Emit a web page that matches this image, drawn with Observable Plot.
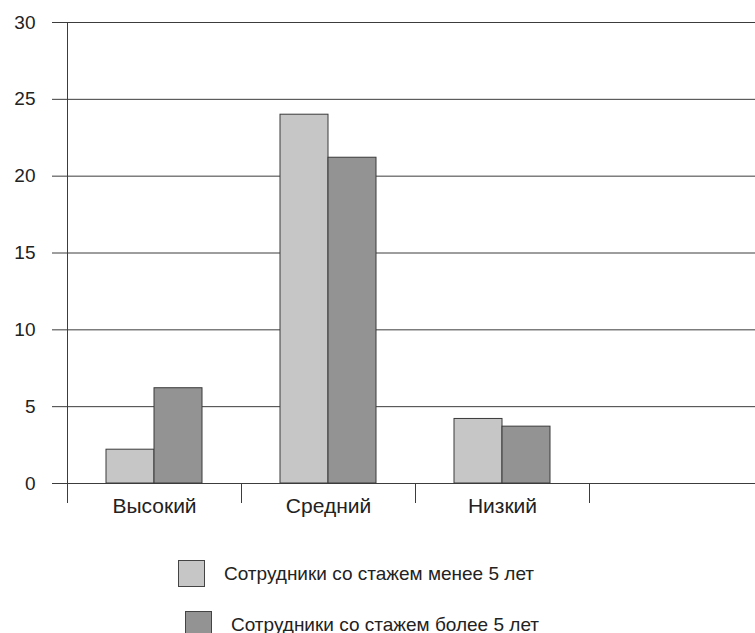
<!DOCTYPE html>
<html>
<head>
<meta charset="utf-8">
<script src="https://cdn.jsdelivr.net/npm/d3@7"></script>
<script src="https://cdn.jsdelivr.net/npm/@observablehq/plot@0.6"></script>
<style>
  html, body { margin: 0; padding: 0; background: #fff; }
  body { width: 755px; height: 633px; position: relative; overflow: hidden; font-family: "Liberation Sans", Arial, sans-serif; }
  #chart { position: absolute; left: 0; top: 0; }
  .legend-item { position: absolute; display: flex; align-items: center; font-size: 19px; color: #222; white-space: nowrap; }
  .swatch { width: 27px; height: 27px; border: 1px solid #444; box-sizing: border-box; margin-right: 19px; flex: none; }
</style>
</head>
<body>
<div id="chart"></div>
<div id="legend"></div>
<script>
const categories = ["Высокий", "Средний", "Низкий", " "];
const seriesNames = ["Сотрудники со стажем менее 5 лет", "Сотрудники со стажем более 5 лет"];
const lessThan5 = [2.2, 24, 4.2];
const moreThan5 = [6.2, 21.2, 3.7];
const yTicks = [0, 5, 10, 15, 20, 25, 30];
const seriesColors = ["#c6c6c6", "#939393"];

const rows = [];
categories.slice(0, 3).forEach((c, i) => {
  rows.push({category: c, series: seriesNames[0], value: lessThan5[i]});
  rows.push({category: c, series: seriesNames[1], value: moreThan5[i]});
});
// one gridline per tick in every category panel (so the empty 4th panel is drawn too)
const gridRows = categories.flatMap(c => yTicks.map(t => ({category: c, tick: t})));

const W = 755, ML = 67, MR = -8;
const step = (W - ML - MR) / categories.length;
const lineColor = "#3c3c3c";

const plot = Plot.plot({
  width: W,
  height: 530,
  marginLeft: ML,
  marginRight: MR,
  marginTop: 22,
  marginBottom: 47,
  style: {fontFamily: "Liberation Sans, Arial, sans-serif", color: "#222", overflow: "hidden"},
  fx: {domain: categories, padding: 0},
  x: {domain: seriesNames, paddingInner: 0, paddingOuter: 0.79, axis: null},
  y: {domain: [0, 30]},
  color: {domain: seriesNames, range: seriesColors},
  marks: [
    Plot.ruleY(gridRows, {fx: "category", y: "tick", stroke: lineColor, strokeWidth: 1}),
    Plot.frame({anchor: "left", facet: "super", stroke: lineColor, strokeWidth: 1}),
    Plot.axisY({ticks: yTicks, tickSize: 15, tickPadding: 17, fontSize: 19, label: null, stroke: lineColor}),
    Plot.barY(rows, {fx: "category", x: "series", y: "value", fill: "series", stroke: "#3a3a3a", strokeWidth: 1}),
    Plot.axisFx({anchor: "bottom", tickSize: 20, dx: -step / 2, tickFormat: () => "", label: null, stroke: lineColor}),
    Plot.axisFx({anchor: "bottom", tickSize: 0, tickPadding: 15, fontSize: 21, label: null})
  ]
});
document.getElementById("chart").appendChild(plot);

const legend = document.getElementById("legend");
const legendPos = [{left: 178, top: 560}, {left: 185, top: 611}];
seriesNames.forEach((name, i) => {
  const item = document.createElement("div");
  item.className = "legend-item";
  item.style.left = legendPos[i].left + "px";
  item.style.top = legendPos[i].top + "px";
  const sw = document.createElement("div");
  sw.className = "swatch";
  sw.style.background = seriesColors[i];
  const t = document.createElement("span");
  t.textContent = name;
  item.appendChild(sw);
  item.appendChild(t);
  legend.appendChild(item);
});
</script>
</body>
</html>
